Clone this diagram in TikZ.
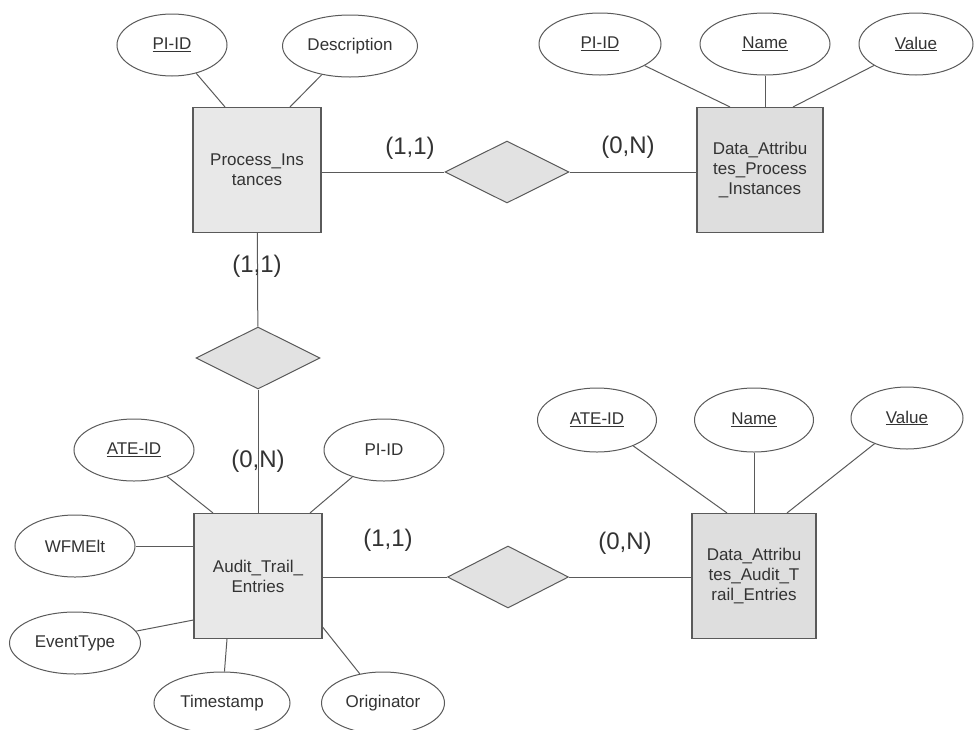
\documentclass[tikz,border=0pt]{standalone}
\usepackage{fontspec}
\setmainfont{Liberation Sans}
\usetikzlibrary{shapes.geometric}
\definecolor{linegray}{HTML}{5A5A5A}
\definecolor{textgray}{HTML}{333333}
\definecolor{boxgray}{HTML}{E8E8E8}
\definecolor{darkbox}{HTML}{DEDEDE}
\definecolor{relgray}{HTML}{E2E2E2}
\begin{document}
\begin{tikzpicture}[x=1pt,y=-1pt,
  entity/.style={draw=linegray,fill=boxgray,line width=1.1pt,minimum width=128pt,minimum height=125pt,
    inner sep=2pt,align=center,font=\fontsize{17}{20}\selectfont,text=textgray},
  attr/.style={ellipse,draw=linegray,fill=white,line width=1pt,inner sep=0pt,minimum width=120pt,
    minimum height=62pt,font=\fontsize{17}{20}\selectfont,text=textgray},
  rel/.style={diamond,draw=linegray,fill=relgray,line width=1pt,inner sep=0pt,minimum width=124pt,minimum height=62pt},
  card/.style={font=\fontsize{24}{28}\selectfont,text=textgray},
  link/.style={draw=linegray,line width=1pt}]
\useasboundingbox (0,0) rectangle (975,729);
%process instances
\node[entity] (pinst) at (257,170) {Process\_Ins\\tances};
\node[attr,minimum width=110pt] (pid) at (172,45) {\underline{PI-ID}};
\node[attr,minimum width=135pt] (desc) at (350,46) {Description};
\draw[link] (pid) -- ([xshift=-32pt]pinst.north);
\draw[link] (desc) -- ([xshift=33pt]pinst.north);
%data attributes of process instances
\node[entity,fill=darkbox,minimum width=126pt] (dapinst) at (760,170) {Data\_Attribu\\tes\_Process\\\_Instances};
\node[attr,minimum width=122pt] (dpid) at (600,44) {\underline{PI-ID}};
\node[attr,minimum width=130pt] (dname) at (765,44) {\underline{Name}};
\node[attr,minimum width=114pt] (dvalue) at (916,44) {\underline{Value}};
\draw[link] (dpid) -- ([xshift=-30pt]dapinst.north);
\draw[link] (dname) -- (dname |- dapinst.north);
\draw[link] (dvalue) -- ([xshift=33pt]dapinst.north);
%relation between them
\node[rel] (relpi) at (507,172) {};
\draw[link] (pinst.east |- relpi) -- (relpi);
\draw[link] (relpi) -- (dapinst.west |- relpi);
\node[card] (c1) at (410,148) {(1,1)};
\node[card] (c2) at (628,147) {(0,N)};
%audit trail entries
\node[entity] (audit) at (258,576) {Audit\_Trail\_\\Entries};
\node[attr] (aid) at (134,450) {\underline{ATE-ID}};
\node[attr] (apid) at (384,450) {PI-ID};
\node[attr] (wfm) at (75,546) {WFMElt};
\node[attr,minimum width=131pt] (evt) at (75,643) {EventType};
\node[attr,minimum width=136pt] (ts) at (222,703) {Timestamp};
\node[attr,minimum width=123pt] (orig) at (383,703) {Originator};
\draw[link] (aid) -- ([xshift=-45pt]audit.north);
\draw[link] (apid) -- ([xshift=52pt]audit.north);
\draw[link] (wfm) -- (audit.west |- wfm);
\draw[link] (evt) -- ([yshift=-44pt]audit.west);
\draw[link] (ts) -- ([xshift=-31pt]audit.south);
\draw[link] (orig) -- ([yshift=-51pt]audit.east);
%relation process instances - audit trail entries
\node[rel] (relpa) at (258,358) {};
\draw[link] (pinst) -- (relpa);
\draw[link] (relpa) -- (audit);
\node[card] (c3) at (257,266) {(1,1)};
\node[card] (c4) at (258,461) {(0,N)};
%data attributes of audit trail entries
\node[entity,fill=darkbox,minimum width=124pt] (daaudit) at (754,576) {Data\_Attribu\\tes\_Audit\_T\\rail\_Entries};
\node[attr,minimum width=119pt,minimum height=64pt] (tid) at (597,420) {\underline{ATE-ID}};
\node[attr,minimum width=119pt,minimum height=64pt] (tname) at (754,420) {\underline{Name}};
\node[attr,minimum width=112pt] (tvalue) at (907,418) {\underline{Value}};
\draw[link] (tid) -- ([xshift=-27pt]daaudit.north);
\draw[link] (tname) -- (daaudit);
\draw[link] (tvalue) -- ([xshift=33pt]daaudit.north);
\node[rel,minimum width=121pt] (relad) at (508,577) {};
\draw[link] (audit.east |- relad) -- (relad);
\draw[link] (relad) -- (daaudit.west |- relad);
\node[card] (c5) at (388,540) {(1,1)};
\node[card] (c6) at (625,543) {(0,N)};
\end{tikzpicture}
\end{document}
